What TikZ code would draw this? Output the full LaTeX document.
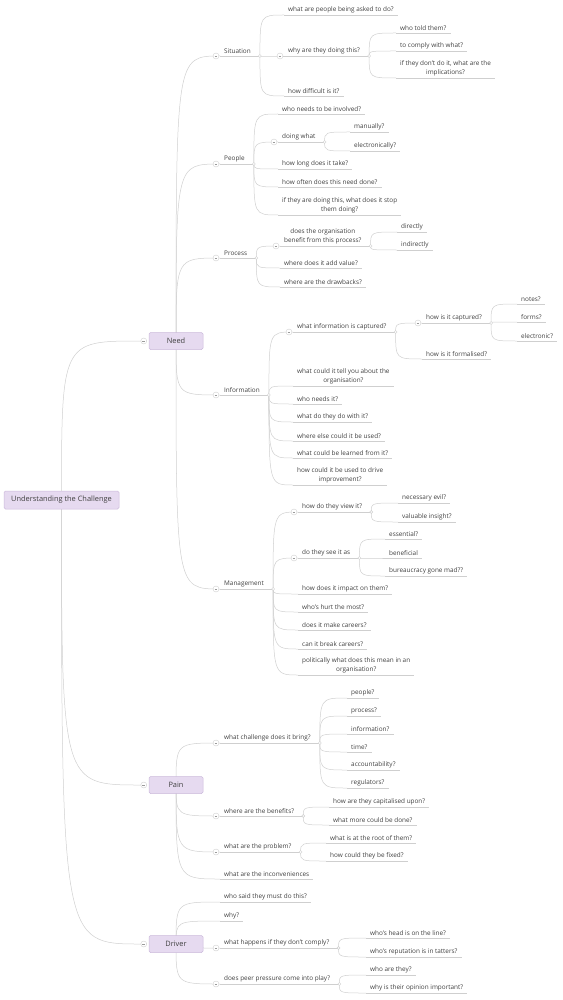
\documentclass[tikz,border=0pt]{standalone}
\usepackage{fontspec}
\setmainfont{Open Sans}
\usetikzlibrary{backgrounds,calc}

\definecolor{txt}{HTML}{404040}
\definecolor{lne}{HTML}{CFCFCF}
\definecolor{boxfill}{HTML}{E6DAF0}
\definecolor{boxline}{HTML}{CBB9DA}
\definecolor{foldmk}{HTML}{9A9A9A}

\newcommand{\leaffont}{\fontsize{6.4pt}{8.6pt}\selectfont}
\newcommand{\boxfont}{\fontsize{7.4pt}{9pt}\selectfont}

\tikzset{
  uline/.style={draw=lne, line width=0.5pt},
  conn/.style={draw=lne, line width=0.5pt},
  leaf/.style={anchor=south west, inner xsep=4pt, inner ysep=2pt, font=\leaffont,
    text=txt, align=center,
    append after command={(\tikzlastnode.south west) edge[uline] (\tikzlastnode.south east)}},
  mainbox/.style={draw=boxline, fill=boxfill, rounded corners=1.5pt, line width=0.5pt,
    minimum width=54pt, minimum height=17pt, font=\boxfont, text=txt},
  rootbox/.style={mainbox, minimum width=115pt, minimum height=18pt},
  fold/.style={circle, draw=lne, fill=white, minimum size=6pt, inner sep=0pt,
    path picture={\draw[foldmk, line width=0.4pt]
      ([xshift=-1.4pt]path picture bounding box.center) --
      ([xshift=1.4pt]path picture bounding box.center);}},
  knot/.style={circle, draw=lne, fill=white, minimum size=3pt, inner sep=0pt}
}

% parent topic -> its sub topics
\newcommand{\fork}[2]{%
  \coordinate (#1-b) at ([xshift=5pt]#1.south east);
  \begin{pgfonlayer}{background}
    \draw[conn] (#1.south east) -- (#1-b);
    \foreach \c in {#2}
      \draw[conn] (#1-b) .. controls (#1-b |- \c.south west) .. (\c.south west);
  \end{pgfonlayer}
  \node[knot] (#1-k) at (#1-b) {};
  \node[fold] (#1-f) at ([xshift=-4pt]#1.south west) {};
}

% main box -> its topics, and the root -> main box
\newcommand{\trunk}[2]{%
  \node[fold] (#1-f) at ([xshift=-5pt]#1.west) {};
  \begin{pgfonlayer}{background}
    \foreach \c in {#2}
      \draw[conn] (#1.center) .. controls (#1.center |- \c.south west) .. (\c.south west);
    \draw[conn] (root.center) .. controls (root.center |- #1-f) .. (#1-f);
  \end{pgfonlayer}
}

\begin{document}
\begin{tikzpicture}[x=1pt,y=-1pt]
  \useasboundingbox (0,0) rectangle (562,1000);

  % Root and main boxes
  \node[rootbox] (root) at (61.5,500) {Understanding the Challenge};
  \node[mainbox] (need) at (176,341) {Need};
  \node[mainbox] (pain) at (176,785) {Pain};
  \node[mainbox] (driver) at (176,944) {Driver};

  % Need: Situation
  \node[leaf] (sit) at (220,56) {Situation};
  \node[leaf] (s1) at (284,15) {what are people being asked to do?};
  \node[leaf] (s2) at (284,56) {why are they doing this?};
  \node[leaf] (s21) at (396,33) {who told them?};
  \node[leaf] (s22) at (396,51) {to comply with what?};
  \node[leaf] (s23) at (396,78) {if they don't do it, what are the\\implications?};
  \node[leaf] (s3) at (284,96) {how difficult is it?};

  % Need: People
  \node[leaf] (ppl) at (220,164) {People};
  \node[leaf] (p1) at (278,114) {who needs to be involved?};
  \node[leaf] (p2) at (278,142) {doing what};
  \node[leaf] (p21) at (350,132) {manually?};
  \node[leaf] (p22) at (350,151) {electronically?};
  \node[leaf] (p3) at (278,169) {how long does it take?};
  \node[leaf] (p4) at (278,187) {how often does this need done?};
  \node[leaf] (p5) at (278,215) {if they are doing this, what does it stop\\them doing?};

  % Need: Process
  \node[leaf] (proc) at (220,258) {Process};
  \node[leaf] (r1) at (280,246) {does the organisation\\benefit from this process?};
  \node[leaf] (r11) at (397,232) {directly};
  \node[leaf] (r12) at (397,250) {indirectly};
  \node[leaf] (r2) at (280,268) {where does it add value?};
  \node[leaf] (r3) at (280,287) {where are the drawbacks?};

  % Need: Information
  \node[leaf] (info) at (220,395) {Information};
  \node[leaf] (i1) at (293,332) {what information is captured?};
  \node[leaf] (i11) at (422,323) {how is it captured?};
  \node[leaf] (i111) at (517,304) {notes?};
  \node[leaf] (i112) at (517,322) {forms?};
  \node[leaf] (i113) at (517,341) {electronic?};
  \node[leaf] (i12) at (422,359) {how is it formalised?};
  \node[leaf] (i2) at (293,386) {what could it tell you about the\\organisation?};
  \node[leaf] (i3) at (293,404) {who needs it?};
  \node[leaf] (i4) at (293,422) {what do they do with it?};
  \node[leaf] (i5) at (293,441) {where else could it be used?};
  \node[leaf] (i6) at (293,458) {what could be learned from it?};
  \node[leaf] (i7) at (293,485) {how could it be used to drive\\improvement?};

  % Need: Management
  \node[leaf] (mgmt) at (220,589) {Management};
  \node[leaf] (m1) at (298,512) {how do they view it?};
  \node[leaf] (m11) at (398,503) {necessary evil?};
  \node[leaf] (m12) at (398,522) {valuable insight?};
  \node[leaf] (m2) at (298,558) {do they see it as};
  \node[leaf] (m21) at (385,539) {essential?};
  \node[leaf] (m22) at (385,558) {beneficial};
  \node[leaf] (m23) at (385,576) {bureaucracy gone mad??};
  \node[leaf] (m3) at (298,594) {how does it impact on them?};
  \node[leaf] (m4) at (298,612) {who's hurt the most?};
  \node[leaf] (m5) at (298,630) {does it make careers?};
  \node[leaf] (m6) at (298,649) {can it break careers?};
  \node[leaf] (m7) at (298,675) {politically what does this mean in an\\organisation?};

  % Pain
  \node[leaf] (a1) at (220,743) {what challenge does it bring?};
  \node[leaf] (a11) at (347,698) {people?};
  \node[leaf] (a12) at (347,716) {process?};
  \node[leaf] (a13) at (347,734) {information?};
  \node[leaf] (a14) at (347,752) {time?};
  \node[leaf] (a15) at (347,770) {accountability?};
  \node[leaf] (a16) at (347,788) {regulators?};
  \node[leaf] (a2) at (220,816) {where are the benefits?};
  \node[leaf] (a21) at (329,807) {how are they capitalised upon?};
  \node[leaf] (a22) at (329,825) {what more could be done?};
  \node[leaf] (a3) at (220,852) {what are the problem?};
  \node[leaf] (a31) at (326,843) {what is at the root of them?};
  \node[leaf] (a32) at (326,861) {how could they be fixed?};
  \node[leaf] (a4) at (220,879) {what are the inconveniences};

  % Driver
  \node[leaf] (d1) at (220,902) {who said they must do this?};
  \node[leaf] (d2) at (220,921) {why?};
  \node[leaf] (d3) at (220,948) {what happens if they don't comply?};
  \node[leaf] (d31) at (366,938) {who's head is on the line?};
  \node[leaf] (d32) at (366,957) {who's reputation is in tatters?};
  \node[leaf] (d4) at (220,984) {does peer pressure come into play?};
  \node[leaf] (d41) at (366,975) {who are they?};
  \node[leaf] (d42) at (366,993) {why is their opinion important?};

  % Connectors
  \trunk{need}{sit,ppl,proc,info,mgmt}
  \trunk{pain}{a1,a2,a3,a4}
  \trunk{driver}{d1,d2,d3,d4}

  \fork{sit}{s1,s2,s3}
  \fork{s2}{s21,s22,s23}
  \fork{ppl}{p1,p2,p3,p4,p5}
  \fork{p2}{p21,p22}
  \fork{proc}{r1,r2,r3}
  \fork{r1}{r11,r12}
  \fork{info}{i1,i2,i3,i4,i5,i6,i7}
  \fork{i1}{i11,i12}
  \fork{i11}{i111,i112,i113}
  \fork{mgmt}{m1,m2,m3,m4,m5,m6,m7}
  \fork{m1}{m11,m12}
  \fork{m2}{m21,m22,m23}
  \fork{a1}{a11,a12,a13,a14,a15,a16}
  \fork{a2}{a21,a22}
  \fork{a3}{a31,a32}
  \fork{d3}{d31,d32}
  \fork{d4}{d41,d42}
\end{tikzpicture}
\end{document}
